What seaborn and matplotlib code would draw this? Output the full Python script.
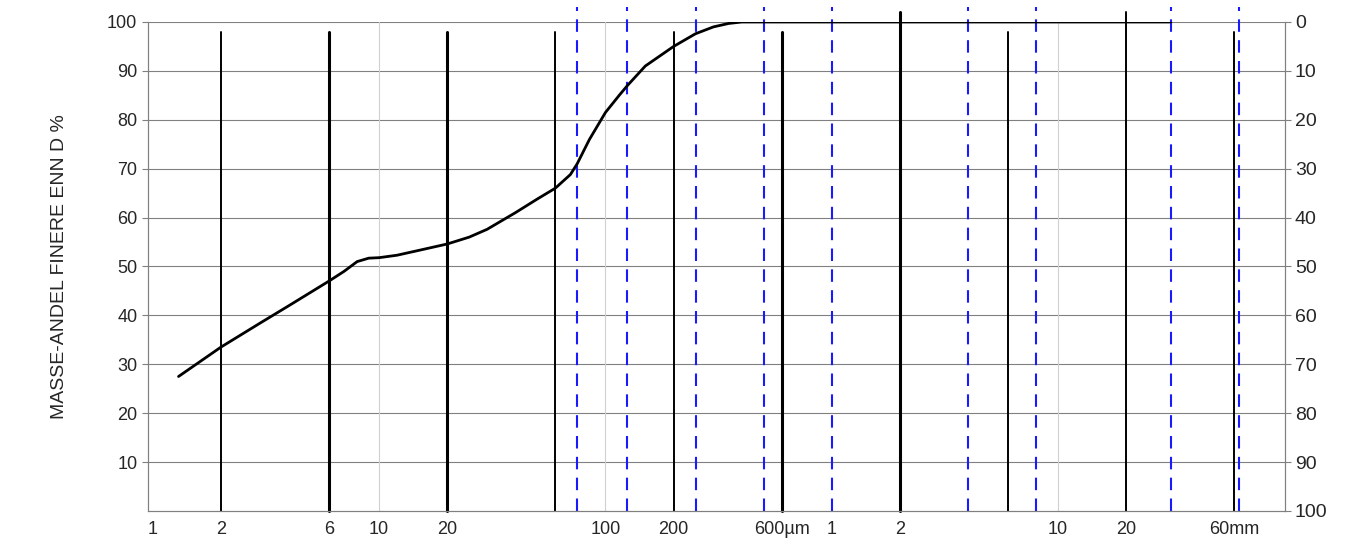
import matplotlib
matplotlib.use("Agg")
import matplotlib.pyplot as plt
import seaborn as sns
import pandas as pd

# grain size curve (size in µm, % finer)
size_um = [1.3, 2, 3, 4, 6, 7, 8, 9, 10, 12, 15, 20, 25, 30, 40, 50, 60, 70, 75, 85, 100, 115,
           125, 150, 200, 250, 300, 350, 400, 1000, 10000, 31500]
pct_finer = [27.5, 33.5, 38.5, 42, 47, 49, 51, 51.7, 51.8, 52.3, 53.3, 54.6, 56, 57.6, 61, 63.8,
             66, 68.8, 71, 76, 81.5, 85, 87, 91, 95, 97.6, 99, 99.7, 100, 100, 100, 100]

# sieve lines
black_lines = [2, 6, 20, 60, 200, 600, 2000, 6000, 20000, 60000]
thick_lines = [6, 20, 600, 2000]
tall_lines = [2000, 20000]
blue_lines = [75, 125, 250, 500, 1000, 4000, 8000, 31500, 63000]
gray_lines = [10, 100, 10000]

xtick_vals = [1, 2, 6, 10, 20, 100, 200, 600, 1000, 2000, 10000, 20000, 60000]
xtick_labels = ["1", "2", "6", "10", "20", "100", "200", "600µm", "1", "2", "10", "20", "60mm"]
ytick_vals = [10, 20, 30, 40, 50, 60, 70, 80, 90, 100]

sns.set_style("white")
plt.rcParams["font.family"] = ["Liberation Sans", "DejaVu Sans"]

fig = plt.figure(figsize=(13.55, 5.5), dpi=100)
ax = fig.add_axes([0.109, 0.071, 0.839, 0.889])
ax.set_xscale("log")
ax.set_xlim(0.95, 100000)
ax.set_ylim(0, 100)

for y in ytick_vals:
    ax.axhline(y, color="#808080", lw=0.8, zorder=1)
for x in gray_lines:
    ax.axvline(x, color="#d0d0d0", lw=0.8, zorder=1)
for x in black_lines:
    top = 1.02 if x in tall_lines else 0.98
    ax.axvline(x, ymin=0, ymax=top, color="black", lw=2.2 if x in thick_lines else 1.4,
               clip_on=False, zorder=2)
for x in blue_lines:
    ax.axvline(x, ymin=0, ymax=1.03, color="#1a1aff", lw=1.5, ls=(0, (6, 4)),
               clip_on=False, zorder=2)

df = pd.DataFrame({"size": size_um, "finer": pct_finer})
sns.lineplot(data=df, x="size", y="finer", ax=ax, color="black", lw=2, zorder=3)

ax.set_xticks(xtick_vals)
ax.set_xticklabels(xtick_labels, fontsize=13)
ax.minorticks_off()
ax.set_yticks(ytick_vals)
ax.set_yticklabels([str(v) for v in ytick_vals], fontsize=13)
ax.set_xlabel("")
ax.set_ylabel("MASSE-ANDEL FINERE ENN D %", fontsize=14, labelpad=28)

ax2 = ax.twinx()
ax2.set_ylim(100, 0)
ax2.set_yticks([0, 10, 20, 30, 40, 50, 60, 70, 80, 90, 100])
ax2.tick_params(labelsize=14)

for a in (ax, ax2):
    a.spines["top"].set_visible(False)
    for s in ("left", "right", "bottom"):
        a.spines[s].set_color("#808080")
        a.spines[s].set_linewidth(0.8)
ax.tick_params(axis="both", length=4, color="#808080")
ax2.tick_params(axis="y", length=4, color="#808080")

fig.savefig("out.png", dpi=100)
